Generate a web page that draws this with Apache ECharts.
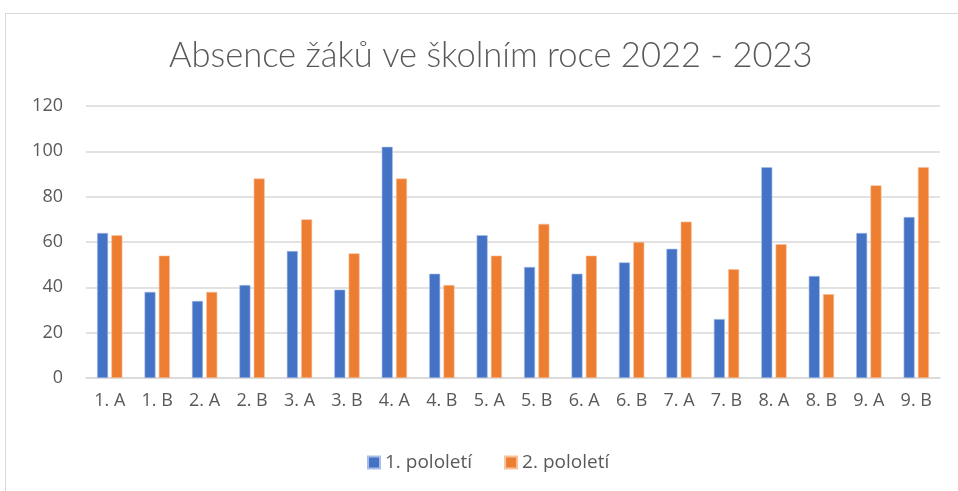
<!DOCTYPE html>
<html>
<head>
<meta charset="utf-8">
<script src="https://cdn.jsdelivr.net/npm/echarts@6/dist/echarts.min.js"></script>
<style>
  html, body { margin: 0; padding: 0; background: #fff; }
  #frame { position: absolute; left: 5px; top: 13px; width: 960px; height: 480px; border: 1px solid #d9d9d9; box-sizing: border-box; }
  #chart { width: 958px; height: 491px; }
</style>
</head>
<body>
<div id="frame"></div>
<div id="chart"></div>
<script>
const categories = ['1. A', '1. B', '2. A', '2. B', '3. A', '3. B', '4. A', '4. B', '5. A',
  '5. B', '6. A', '6. B', '7. A', '7. B', '8. A', '8. B', '9. A', '9. B'];
const firstHalf = [64, 38, 34, 41, 56, 39, 102, 46, 63, 49, 46, 51, 57, 26, 93, 45, 64, 71];
const secondHalf = [63, 54, 38, 88, 70, 55, 88, 41, 54, 68, 54, 60, 69, 48, 59, 37, 85, 93];
const seriesNames = ['1. pololetí', '2. pololetí'];
const yTicks = { min: 0, max: 120, interval: 20 };

const chart = echarts.init(document.getElementById('chart'));

const option = {
  animation: false,
  title: {
    text: 'Absence žáků ve školním roce 2022 - 2023',
    left: 164,
    top: 33,
    textStyle: {
      color: '#595959',
      fontSize: 34.5,
      fontWeight: 300,
      fontFamily: 'Lato'
    }
  },
  legend: {
    bottom: 14,
    left: 362,
    itemWidth: 12,
    itemHeight: 12,
    itemGap: 32,
    icon: 'rect',
    textStyle: { color: '#595959', fontSize: 19, fontFamily: 'Open Sans' },
    data: seriesNames
  },
  grid: {
    left: 86,
    right: 18,
    top: 106,
    bottom: 113
  },
  xAxis: {
    type: 'category',
    data: categories,
    axisTick: { show: false },
    axisLine: { lineStyle: { color: '#d9d9d9', width: 1.5 } },
    axisLabel: { color: '#595959', fontSize: 18, margin: 14, fontFamily: 'Open Sans' }
  },
  yAxis: {
    type: 'value',
    min: yTicks.min,
    max: yTicks.max,
    interval: yTicks.interval,
    axisLine: { show: false },
    axisTick: { show: false },
    axisLabel: { color: '#595959', fontSize: 18, margin: 23, fontFamily: 'Open Sans' },
    splitLine: { lineStyle: { color: '#d9d9d9', width: 1.5 } }
  },
  series: [
    {
      name: seriesNames[0],
      type: 'bar',
      data: firstHalf,
      barWidth: 11,
      barGap: '30%',
      itemStyle: { color: '#4472c4', borderColor: '#a9bde6', borderWidth: 0.6 }
    },
    {
      name: seriesNames[1],
      type: 'bar',
      data: secondHalf,
      barWidth: 11,
      barGap: '30%',
      itemStyle: { color: '#ed7d31', borderColor: '#f6c19d', borderWidth: 0.6 }
    }
  ]
};

chart.setOption(option);
window.addEventListener('resize', chart.resize);
</script>
</body>
</html>
